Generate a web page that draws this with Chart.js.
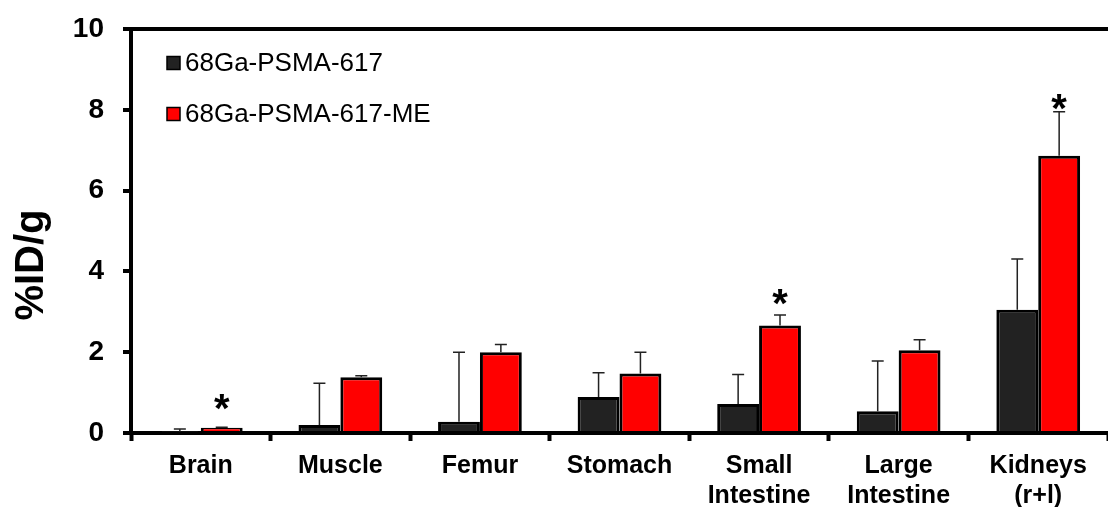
<!DOCTYPE html>
<html lang="en">
<head>
    <meta charset="UTF-8">
    <title>Biodistribution</title>
    <script src="https://cdn.jsdelivr.net/npm/chart.js"></script>
    <style>
        body { margin: 0; background: #fff; }
    </style>
</head>
<body>
    <canvas id="bioChart" width="1108" height="507"></canvas>

    <script>
        const organs = ['Brain', 'Muscle', 'Femur', 'Stomach', ['Small', 'Intestine'], ['Large', 'Intestine'], ['Kidneys', '(r+l)']];
        const psma617 = [0.03, 0.20, 0.28, 0.89, 0.72, 0.54, 3.05];
        const psma617Sd = [0.07, 1.03, 1.72, 0.60, 0.73, 1.24, 1.26];
        const psma617Me = [0.13, 1.38, 2.00, 1.47, 2.66, 2.05, 6.86];
        const psma617MeSd = [0.01, 0.04, 0.19, 0.53, 0.26, 0.26, 1.09];
        const significant = [true, false, false, false, true, false, true];
        const yTicks = [0, 2, 4, 6, 8, 10];

        const FONT = '"Liberation Sans", Arial, sans-serif';

        // error bars (upper only) + asterisks over the red bars
        const errorBars = {
            id: 'errorBars',
            afterDatasetsDraw(chart) {
                const y = chart.scales.y;
                const ctx = chart.ctx;
                const sds = [psma617Sd, psma617MeSd];
                ctx.save();
                chart.data.datasets.forEach((ds, di) => {
                    const meta = chart.getDatasetMeta(di);
                    meta.data.forEach((bar, i) => {
                        const top = y.getPixelForValue(ds.data[i] + sds[di][i]);
                        ctx.strokeStyle = '#222';
                        ctx.lineWidth = 1.5;
                        ctx.beginPath();
                        ctx.moveTo(bar.x, bar.y);
                        ctx.lineTo(bar.x, top);
                        ctx.moveTo(bar.x - 6, top);
                        ctx.lineTo(bar.x + 6, top);
                        ctx.stroke();
                        if (di === 1 && significant[i]) {
                            ctx.fillStyle = '#000';
                            ctx.font = 'bold 40px ' + FONT;
                            ctx.textAlign = 'center';
                            ctx.textBaseline = 'alphabetic';
                            const lift = i === 6 ? -10 : (i === 0 ? 5 : -2);
                            ctx.fillText('*', bar.x, top - lift);
                        }
                    });
                });
                ctx.restore();
            }
        };

        // legend inside the plot + rotated y title
        const extras = {
            id: 'extras',
            afterDraw(chart) {
                const ctx = chart.ctx;
                const area = chart.chartArea;
                ctx.save();
                chart.data.datasets.forEach((ds, i) => {
                    const cy = area.top + 34 + i * 51;
                    ctx.fillStyle = ds.backgroundColor;
                    ctx.fillRect(area.left + 36, cy - 6.5, 13, 13);
                    ctx.strokeStyle = '#000';
                    ctx.lineWidth = 1.5;
                    ctx.strokeRect(area.left + 36, cy - 6.5, 13, 13);
                    ctx.fillStyle = '#000';
                    ctx.font = '26px ' + FONT;
                    ctx.textAlign = 'left';
                    ctx.textBaseline = 'middle';
                    ctx.fillText(ds.label, area.left + 54, cy + 1);
                });
                ctx.translate(32, 265);
                ctx.rotate(-Math.PI / 2);
                ctx.font = 'bold 40px ' + FONT;
                ctx.textAlign = 'center';
                ctx.textBaseline = 'middle';
                ctx.fillText('%ID/g', 0, 0);
                ctx.restore();
            }
        };

        const ctx = document.getElementById('bioChart').getContext('2d');
        const bioChart = new Chart(ctx, {
            type: 'bar',
            data: {
                labels: organs,
                datasets: [{
                    label: '68Ga-PSMA-617',
                    data: psma617,
                    backgroundColor: '#222222',
                    borderColor: '#000',
                    borderWidth: 3
                }, {
                    label: '68Ga-PSMA-617-ME',
                    data: psma617Me,
                    backgroundColor: '#ff0000',
                    borderColor: '#000',
                    borderWidth: 3
                }]
            },
            options: {
                responsive: false,
                animation: false,
                devicePixelRatio: 1,
                layout: { padding: { top: 29, right: 0, left: 0, bottom: 0 } },
                datasets: { bar: { categoryPercentage: 0.6, barPercentage: 1.0 } },
                plugins: { legend: { display: false }, tooltip: { enabled: false } },
                scales: {
                    x: {
                        grid: { offset: true, color: 'transparent', tickColor: '#000', tickLength: 8, tickWidth: 4 },
                        border: { color: '#000', width: 4 },
                        ticks: {
                            color: '#000', padding: 10, maxRotation: 0, autoSkip: false,
                            font: { family: FONT, size: 25, weight: 'bold', lineHeight: 1.2 }
                        },
                        afterFit(scale) { scale.height = 74; scale.paddingLeft = 0; scale.paddingRight = 0; }
                    },
                    y: {
                        min: 0,
                        max: 10,
                        afterBuildTicks(scale) { scale.ticks = yTicks.map(v => ({ value: v })); },
                        grid: {
                            color: c => (c.tick && c.tick.value === 10 ? '#000' : 'transparent'),
                            lineWidth: 4, tickColor: '#000', tickLength: 8, tickWidth: 4
                        },
                        border: { color: '#000', width: 4 },
                        ticks: {
                            color: '#000', padding: 19,
                            font: { family: FONT, size: 28, weight: 'bold' }
                        },
                        afterFit(scale) { scale.width = 131; scale.paddingTop = 0; scale.paddingBottom = 0; }
                    }
                }
            },
            plugins: [errorBars, extras]
        });
    </script>
</body>
</html>
